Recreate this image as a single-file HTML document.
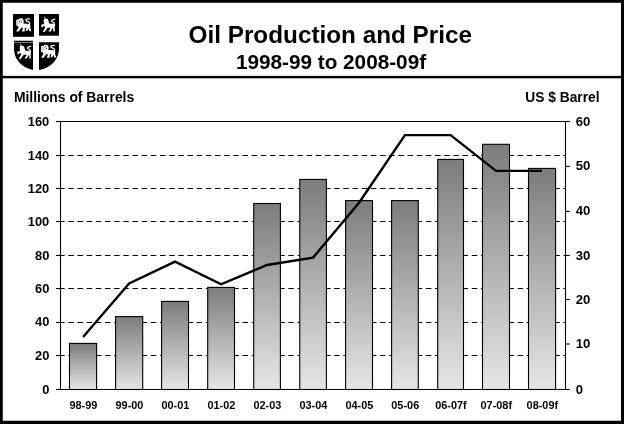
<!DOCTYPE html>
<html lang="en"><head><meta charset="utf-8"><title>Oil Production and Price</title>
<style>html,body{margin:0;padding:0;background:#fff}svg{display:block}</style></head>
<body>
<svg width="624" height="424" viewBox="0 0 624 424" font-family="'Liberation Sans', Arial, sans-serif" font-weight="bold">
<defs><linearGradient id="g" x1="0" y1="0" x2="0" y2="1"><stop offset="0" stop-color="#7c7c7c"/><stop offset="1" stop-color="#e6e6e6"/></linearGradient></defs>
<rect x="0" y="0" width="624" height="424" fill="#fff"/>
<path d="M0 0H624V424H0Z M2.75 2.8V420.8H621V2.8Z" fill="#000" fill-rule="evenodd"/>
<rect x="2" y="75.9" width="620" height="2.4" fill="#000"/>
<line x1="60.5" y1="355.5" x2="565.5" y2="355.5" stroke="#000" stroke-width="1.1" stroke-dasharray="5.5,3.67" stroke-dashoffset="1.4"/>
<line x1="60.5" y1="322.5" x2="565.5" y2="322.5" stroke="#000" stroke-width="1.1" stroke-dasharray="5.5,3.67" stroke-dashoffset="1.4"/>
<line x1="60.5" y1="288.5" x2="565.5" y2="288.5" stroke="#000" stroke-width="1.1" stroke-dasharray="5.5,3.67" stroke-dashoffset="1.4"/>
<line x1="60.5" y1="255.5" x2="565.5" y2="255.5" stroke="#000" stroke-width="1.1" stroke-dasharray="5.5,3.67" stroke-dashoffset="1.4"/>
<line x1="60.5" y1="221.5" x2="565.5" y2="221.5" stroke="#000" stroke-width="1.1" stroke-dasharray="5.5,3.67" stroke-dashoffset="1.4"/>
<line x1="60.5" y1="188.5" x2="565.5" y2="188.5" stroke="#000" stroke-width="1.1" stroke-dasharray="5.5,3.67" stroke-dashoffset="1.4"/>
<line x1="60.5" y1="155.5" x2="565.5" y2="155.5" stroke="#000" stroke-width="1.1" stroke-dasharray="5.5,3.67" stroke-dashoffset="1.4"/>
<line x1="56.0" y1="121.5" x2="569.5" y2="121.5" stroke="#000" stroke-width="1.1"/>
<rect x="69.5" y="343.4" width="27.10" height="46.10" fill="url(#g)" stroke="#000" stroke-width="1.1"/>
<rect x="115.6" y="316.6" width="27.10" height="72.90" fill="url(#g)" stroke="#000" stroke-width="1.1"/>
<rect x="161.6" y="301.4" width="26.90" height="88.10" fill="url(#g)" stroke="#000" stroke-width="1.1"/>
<rect x="207.7" y="287.4" width="26.80" height="102.10" fill="url(#g)" stroke="#000" stroke-width="1.1"/>
<rect x="253.7" y="203.5" width="26.70" height="186.00" fill="url(#g)" stroke="#000" stroke-width="1.1"/>
<rect x="299.75" y="179.4" width="26.65" height="210.10" fill="url(#g)" stroke="#000" stroke-width="1.1"/>
<rect x="345.6" y="200.6" width="26.90" height="188.90" fill="url(#g)" stroke="#000" stroke-width="1.1"/>
<rect x="391.6" y="200.6" width="26.70" height="188.90" fill="url(#g)" stroke="#000" stroke-width="1.1"/>
<rect x="437.7" y="159.4" width="25.80" height="230.10" fill="url(#g)" stroke="#000" stroke-width="1.1"/>
<rect x="482.5" y="144.3" width="27.00" height="245.20" fill="url(#g)" stroke="#000" stroke-width="1.1"/>
<rect x="528.5" y="168.4" width="27.10" height="221.10" fill="url(#g)" stroke="#000" stroke-width="1.1"/>
<line x1="60.5" y1="121.5" x2="60.5" y2="389.5" stroke="#000" stroke-width="1.1"/>
<line x1="565.5" y1="121.5" x2="565.5" y2="389.5" stroke="#000" stroke-width="1.1"/>
<line x1="56.0" y1="389.5" x2="569.5" y2="389.5" stroke="#000" stroke-width="1.1"/>
<line x1="56.0" y1="389.5" x2="60.5" y2="389.5" stroke="#000" stroke-width="1.1"/>
<text transform="translate(49.3,394.0) scale(0.955,1)" font-size="13.5" text-anchor="end">0</text>
<line x1="56.0" y1="355.5" x2="60.5" y2="355.5" stroke="#000" stroke-width="1.1"/>
<text transform="translate(49.3,359.7) scale(0.955,1)" font-size="13.5" text-anchor="end">20</text>
<line x1="56.0" y1="322.5" x2="60.5" y2="322.5" stroke="#000" stroke-width="1.1"/>
<text transform="translate(49.3,326.4) scale(0.955,1)" font-size="13.5" text-anchor="end">40</text>
<line x1="56.0" y1="288.5" x2="60.5" y2="288.5" stroke="#000" stroke-width="1.1"/>
<text transform="translate(49.3,292.9) scale(0.955,1)" font-size="13.5" text-anchor="end">60</text>
<line x1="56.0" y1="255.5" x2="60.5" y2="255.5" stroke="#000" stroke-width="1.1"/>
<text transform="translate(49.3,259.6) scale(0.955,1)" font-size="13.5" text-anchor="end">80</text>
<line x1="56.0" y1="221.5" x2="60.5" y2="221.5" stroke="#000" stroke-width="1.1"/>
<text transform="translate(49.3,225.7) scale(0.955,1)" font-size="13.5" text-anchor="end">100</text>
<line x1="56.0" y1="188.5" x2="60.5" y2="188.5" stroke="#000" stroke-width="1.1"/>
<text transform="translate(49.3,192.7) scale(0.955,1)" font-size="13.5" text-anchor="end">120</text>
<line x1="56.0" y1="155.5" x2="60.5" y2="155.5" stroke="#000" stroke-width="1.1"/>
<text transform="translate(49.3,159.6) scale(0.955,1)" font-size="13.5" text-anchor="end">140</text>
<line x1="56.0" y1="121.5" x2="60.5" y2="121.5" stroke="#000" stroke-width="1.1"/>
<text transform="translate(49.3,126.0) scale(0.955,1)" font-size="13.5" text-anchor="end">160</text>
<line x1="565.5" y1="389.5" x2="569.8" y2="389.5" stroke="#000" stroke-width="1.1"/>
<text transform="translate(575.8,394.0) scale(0.975,1)" font-size="13.5" text-anchor="start">0</text>
<line x1="565.5" y1="344.0" x2="569.8" y2="344.0" stroke="#000" stroke-width="1.1"/>
<text transform="translate(575.8,348.3) scale(0.975,1)" font-size="13.5" text-anchor="start">10</text>
<line x1="565.5" y1="299.5" x2="569.8" y2="299.5" stroke="#000" stroke-width="1.1"/>
<text transform="translate(575.8,303.8) scale(0.975,1)" font-size="13.5" text-anchor="start">20</text>
<line x1="565.5" y1="255.5" x2="569.8" y2="255.5" stroke="#000" stroke-width="1.1"/>
<text transform="translate(575.8,259.6) scale(0.975,1)" font-size="13.5" text-anchor="start">30</text>
<line x1="565.5" y1="211.4" x2="569.8" y2="211.4" stroke="#000" stroke-width="1.1"/>
<text transform="translate(575.8,215.4) scale(0.975,1)" font-size="13.5" text-anchor="start">40</text>
<line x1="565.5" y1="166.3" x2="569.8" y2="166.3" stroke="#000" stroke-width="1.1"/>
<text transform="translate(575.8,169.6) scale(0.975,1)" font-size="13.5" text-anchor="start">50</text>
<line x1="565.5" y1="121.5" x2="569.8" y2="121.5" stroke="#000" stroke-width="1.1"/>
<text transform="translate(575.8,125.6) scale(0.975,1)" font-size="13.5" text-anchor="start">60</text>
<polyline points="83.05,337.0 129.15,283.5 175.05,261.7 221.10,284.3 267.05,265.0 313.07,257.6 359.05,202.7 404.95,135.1 450.60,135.1 496.00,170.9 542.05,170.9" fill="none" stroke="#000" stroke-width="2.4" stroke-linejoin="miter"/>
<text transform="translate(83.35,408.8) scale(0.975,1)" font-size="11.2" text-anchor="middle">98-99</text>
<text transform="translate(129.45,408.8) scale(0.975,1)" font-size="11.2" text-anchor="middle">99-00</text>
<text transform="translate(175.35,408.8) scale(0.975,1)" font-size="11.2" text-anchor="middle">00-01</text>
<text transform="translate(221.4,408.8) scale(0.975,1)" font-size="11.2" text-anchor="middle">01-02</text>
<text transform="translate(267.35,408.8) scale(0.975,1)" font-size="11.2" text-anchor="middle">02-03</text>
<text transform="translate(313.38,408.8) scale(0.975,1)" font-size="11.2" text-anchor="middle">03-04</text>
<text transform="translate(359.35,408.8) scale(0.975,1)" font-size="11.2" text-anchor="middle">04-05</text>
<text transform="translate(405.25,408.8) scale(0.975,1)" font-size="11.2" text-anchor="middle">05-06</text>
<text transform="translate(450.9,408.8) scale(0.975,1)" font-size="11.2" text-anchor="middle">06-07f</text>
<text transform="translate(496.3,408.8) scale(0.975,1)" font-size="11.2" text-anchor="middle">07-08f</text>
<text transform="translate(542.35,408.8) scale(0.975,1)" font-size="11.2" text-anchor="middle">08-09f</text>
<text transform="translate(330.3,42.9) scale(1.013,1)" font-size="24.0" text-anchor="middle">Oil Production and Price</text>
<text transform="translate(331.0,69.0) scale(0.988,1)" font-size="21.0" text-anchor="middle">1998-99 to 2008-09f</text>
<text transform="translate(13.9,101.8) scale(0.978,1)" font-size="14.2" text-anchor="start">Millions of Barrels</text>
<text transform="translate(599.6,101.9) scale(0.972,1)" font-size="14.2" text-anchor="end">US $ Barrel</text>
<g>
<rect x="13" y="14" width="21" height="22.8" fill="#000"/>
<rect x="39" y="14" width="20" height="21.7" fill="#000"/>
<path d="M14 40.8 L33 40.8 L33 70 C24 68 15 62 14 50 Z" fill="#000"/>
<rect x="14" y="42.15" width="19" height="0.55" fill="#fff" opacity="0.85"/>
<path d="M39 42.2 L59 42.2 L59 50 C58 62 48 68.5 39 70 Z" fill="#000"/>
<g transform="translate(16,18)"><g fill="#fff"><path d="M0.2 1.9 L1.5 1.4 L2.4 1.8 C3 0.5 4.6 0 6 0.6 C7.5 1.2 8 2.8 7.6 4.4 L7.4 5.6 L13.4 5.9 L14.4 7.4 L14.2 9.4 L15.3 13.2 L13.4 13.2 L12.6 10.4 L11.4 12.8 L9.6 12.8 L10.6 9.8 L8.8 9.9 L8.7 13.4 L5.9 13.4 L7 10.2 L5.6 9.6 L2.6 13.4 L0.2 13.4 L2.6 9.4 L1.6 7.8 L0.2 7.6 Z"/></g><path d="M13.7 6.4 C14.2 4.6 12.6 3.6 10.6 3.2 C9.6 3 9.6 1.5 10.8 1.2 L13.4 0.9" fill="none" stroke="#fff" stroke-width="1.2" stroke-linecap="round"/><g fill="#000"><circle cx="4.9" cy="2.2" r="0.55"/><circle cx="3.4" cy="3.4" r="0.5"/><circle cx="5.6" cy="4" r="0.5"/><circle cx="4" cy="5.2" r="0.45"/><rect x="1.7" y="2.4" width="0.45" height="4.6" opacity="0.6"/></g></g>
<g transform="translate(41,16)"><g fill="#fff"><path d="M3 0.8 L3.8 0.9 L5 2.9 C6.2 2.7 7.2 3.3 7.4 4.4 L7.8 6.2 L8.6 7.8 L13.2 7.8 L13.9 9.4 L13.7 11.6 L13.8 15.4 L12.4 15.4 L12.2 12.6 L11.6 12.2 L9.7 15.4 L7.4 15.4 L9.6 12.2 L8.6 11.6 L6.6 12 L3.5 15.9 L1.8 15.9 L4.2 11.6 L3.2 10 L2.2 9.9 L2 11.4 L0.5 10.9 L0.3 8.5 L2.9 8.3 L3 6.6 L2.6 5.6 L2.9 3.6 L3.8 2.9 Z"/></g><path d="M13.5 8.8 C13.6 7 12.4 6.2 11.2 5.8 C10.4 5.4 10.4 4.4 11.2 4.1 L13.8 3.2" fill="none" stroke="#fff" stroke-width="1.2" stroke-linecap="round"/></g>
<g transform="translate(17,43)"><g fill="#fff"><path d="M3 0.8 L3.8 0.9 L5 2.9 C6.2 2.7 7.2 3.3 7.4 4.4 L7.8 6.2 L8.6 7.8 L13.2 7.8 L13.9 9.4 L13.7 11.6 L13.8 15.4 L12.4 15.4 L12.2 12.6 L11.6 12.2 L9.7 15.4 L7.4 15.4 L9.6 12.2 L8.6 11.6 L6.6 12 L3.5 15.9 L1.8 15.9 L4.2 11.6 L3.2 10 L2.2 9.9 L2 11.4 L0.5 10.9 L0.3 8.5 L2.9 8.3 L3 6.6 L2.6 5.6 L2.9 3.6 L3.8 2.9 Z"/></g><path d="M13.5 8.8 C13.6 7 12.4 6.2 11.2 5.8 C10.4 5.4 10.4 4.4 11.2 4.1 L13.8 3.2" fill="none" stroke="#fff" stroke-width="1.2" stroke-linecap="round"/></g>
<g transform="translate(40.9,44.4)"><g fill="#fff"><path d="M0.2 1.9 L1.5 1.4 L2.4 1.8 C3 0.5 4.6 0 6 0.6 C7.5 1.2 8 2.8 7.6 4.4 L7.4 5.6 L13.4 5.9 L14.4 7.4 L14.2 9.4 L15.3 13.2 L13.4 13.2 L12.6 10.4 L11.4 12.8 L9.6 12.8 L10.6 9.8 L8.8 9.9 L8.7 13.4 L5.9 13.4 L7 10.2 L5.6 9.6 L2.6 13.4 L0.2 13.4 L2.6 9.4 L1.6 7.8 L0.2 7.6 Z"/></g><path d="M13.7 6.4 C14.2 4.6 12.6 3.6 10.6 3.2 C9.6 3 9.6 1.5 10.8 1.2 L13.4 0.9" fill="none" stroke="#fff" stroke-width="1.2" stroke-linecap="round"/><g fill="#000"><circle cx="4.9" cy="2.2" r="0.55"/><circle cx="3.4" cy="3.4" r="0.5"/><circle cx="5.6" cy="4" r="0.5"/><circle cx="4" cy="5.2" r="0.45"/><rect x="1.7" y="2.4" width="0.45" height="4.6" opacity="0.6"/></g></g>
</g>
</svg>
</body></html>
